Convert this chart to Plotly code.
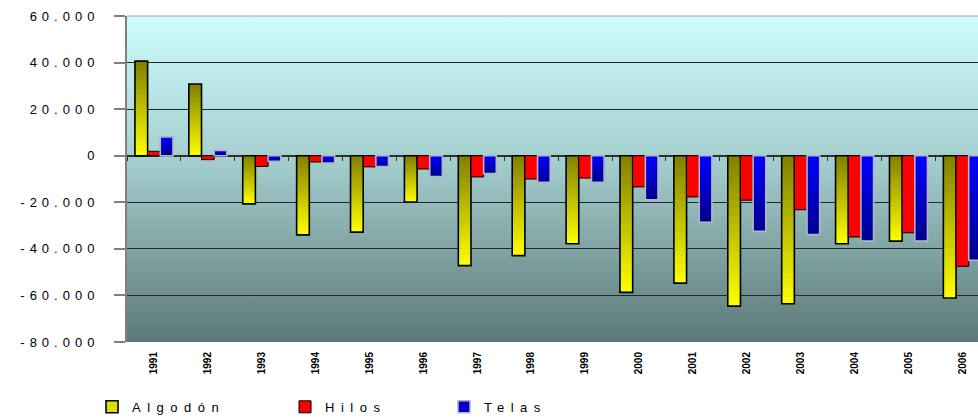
import base64
import plotly.graph_objects as go

years = ["1991", "1992", "1993", "1994", "1995", "1996", "1997", "1998",
         "1999", "2000", "2001", "2002", "2003", "2004", "2005", "2006"]
algodon = [40600, 30800, -20700, -34000, -32800, -19900, -47200, -42900,
           -37800, -58700, -54700, -64600, -63600, -37800, -36700, -61100]
hilos = [1900, -1700, -4600, -2700, -4800, -5700, -9100, -10000,
         -9600, -13400, -17700, -19100, -23200, -34900, -33100, -47500]
telas = [8100, 2300, -2400, -3100, -4600, -8900, -7700, -11400,
         -11400, -18900, -28600, -32500, -33900, -36700, -36700, -44900]
series_names = ["Algodón", "Hilos", "Telas"]
y_tickvals = [60000, 40000, 20000, 0, -20000, -40000, -60000, -80000]
y_ticktext = ["60.000", "40.000", "20.000", "0", "-20.000", "-40.000", "-60.000", "-80.000"]

W, H = 978, 418
ML, MR, MT, MB = 127, 0, 16, 76
Y_MIN, Y_MAX = -80000, 60000


def spaced(txt, px):
    return '<span style="letter-spacing:%spx">%s</span>' % (px, txt)


def lerp(c1, c2, t):
    return "rgb(%d,%d,%d)" % tuple(round(a + (b - a) * t) for a, b in zip(c1, c2))


fig = go.Figure()
N = 20


def gradient_series(values, name, top_col, bot_col, line_col, line_w, legend_fill, group, legend_id):
    for k in range(N):
        f = (N - k - 0.5) / N
        frac = (N - k) / N
        cols = []
        for v in values:
            t = f if v < 0 else 1 - f
            cols.append(lerp(top_col, bot_col, t))
        fig.add_trace(go.Bar(x=years, y=[v * frac for v in values], offsetgroup=group,
                             marker=dict(color=cols, line=dict(width=0)),
                             showlegend=False, hoverinfo="skip"))
    fig.add_trace(go.Bar(x=years, y=values, offsetgroup=group, name=name,
                         marker=dict(color="rgba(0,0,0,0)", line=dict(color=line_col, width=line_w)),
                         showlegend=False))
    # legend-only entry (zero-height bar) carrying the swatch colour
    fig.add_trace(go.Bar(x=years[:1], y=[0], offsetgroup=group, name=spaced(name, 6.5),
                         marker=dict(color=legend_fill, line=dict(color=line_col, width=line_w)),
                         legend=legend_id, showlegend=True, hoverinfo="skip"))


gradient_series(algodon, series_names[0], (128, 128, 0), (255, 255, 0), "#000000", 1.6,
                "#dcdc00", "a", "legend")
fig.add_trace(go.Bar(x=years, y=hilos, offsetgroup="h", name=spaced(series_names[1], 6.5),
                     marker=dict(color="#ff0000", line=dict(color="#000000", width=1)),
                     legend="legend2", showlegend=True))
gradient_series(telas, series_names[2], (0, 0, 255), (0, 0, 140), "#b4b4c8", 1.6,
                "#0000c8", "t", "legend3")

# invisible helper trace so the category axis drawn at y = 0 gets its categories
fig.add_trace(go.Scatter(x=years, y=[None] * len(years), xaxis="x2", mode="markers",
                         showlegend=False, hoverinfo="skip"))

svg = ('<svg xmlns="http://www.w3.org/2000/svg" width="100" height="100" viewBox="0 0 100 100" '
       'preserveAspectRatio="none"><defs><linearGradient id="g" x1="0" y1="0" x2="0" y2="1">'
       '<stop offset="0" stop-color="#cdfdfd"/><stop offset="0.43" stop-color="#a6d0d0"/>'
       '<stop offset="1" stop-color="#5c7878"/></linearGradient></defs>'
       '<rect width="100" height="100" fill="url(#g)"/></svg>')
src = "data:image/svg+xml;base64," + base64.b64encode(svg.encode()).decode()

tickfont = dict(family="Liberation Sans, Arial, sans-serif", size=13, color="#000000")
legfont = dict(family="Liberation Sans, Arial, sans-serif", size=13, color="#000000")
xrange = [-0.5, 15.29]

fig.update_layout(
    width=W, height=H,
    margin=dict(l=ML, r=MR, t=MT, b=MB, autoexpand=False),
    paper_bgcolor="#ffffff",
    plot_bgcolor="rgba(0,0,0,0)",
    showlegend=True,
    barmode="group", bargap=0.295, bargroupgap=0,
    images=[dict(source=src, xref="paper", yref="paper", x=0, y=1, sizex=1, sizey=1,
                 sizing="stretch", layer="below", xanchor="left", yanchor="top")],
    xaxis=dict(type="category", categoryorder="array", categoryarray=years,
               range=xrange, tickangle=-90, showgrid=False, showline=False,
               automargin=False,
               ticks="outside", ticklen=5, tickcolor="rgba(0,0,0,0)",
               tickfont=dict(family="Liberation Sans, Arial, sans-serif", size=10,
                             color="#000000", weight="bold")),
    xaxis2=dict(type="category", categoryorder="array", categoryarray=years,
                range=xrange, overlaying="x", anchor="free",
                position=(0 - Y_MIN) / (Y_MAX - Y_MIN),
                showgrid=False, showline=False, showticklabels=False, automargin=False,
                ticks="outside", ticklen=4, tickwidth=1.2, tickcolor="#303030",
                tickson="boundaries"),
    yaxis=dict(range=[Y_MIN, Y_MAX], tickvals=y_tickvals,
               ticktext=[spaced(t, 5) for t in y_ticktext],
               automargin=False,
               showgrid=True, gridcolor="#262626", gridwidth=1.3,
               zeroline=True, zerolinecolor="#303030", zerolinewidth=1.5,
               showline=True, linecolor="#808080", linewidth=2,
               ticks="outside", ticklen=11, tickcolor="#808080", tickwidth=1.5,
               ticklabelstandoff=12, tickfont=tickfont),
    shapes=[dict(type="line", xref="paper", yref="paper", x0=0, x1=1, y0=1, y1=1,
                 line=dict(color="#c0c0c0", width=1.5))],
    legend=dict(orientation="h", x=-0.0411, y=-0.199, xanchor="left", yanchor="middle",
                font=legfont, bgcolor="rgba(0,0,0,0)"),
    legend2=dict(orientation="h", x=0.1857, y=-0.199, xanchor="left", yanchor="middle",
                 font=legfont, bgcolor="rgba(0,0,0,0)"),
    legend3=dict(orientation="h", x=0.3725, y=-0.199, xanchor="left", yanchor="middle",
                 font=legfont, bgcolor="rgba(0,0,0,0)"),
)

fig.write_html("out.html", config={"displayModeBar": False},
               post_script="document.body.style.margin='0';")
